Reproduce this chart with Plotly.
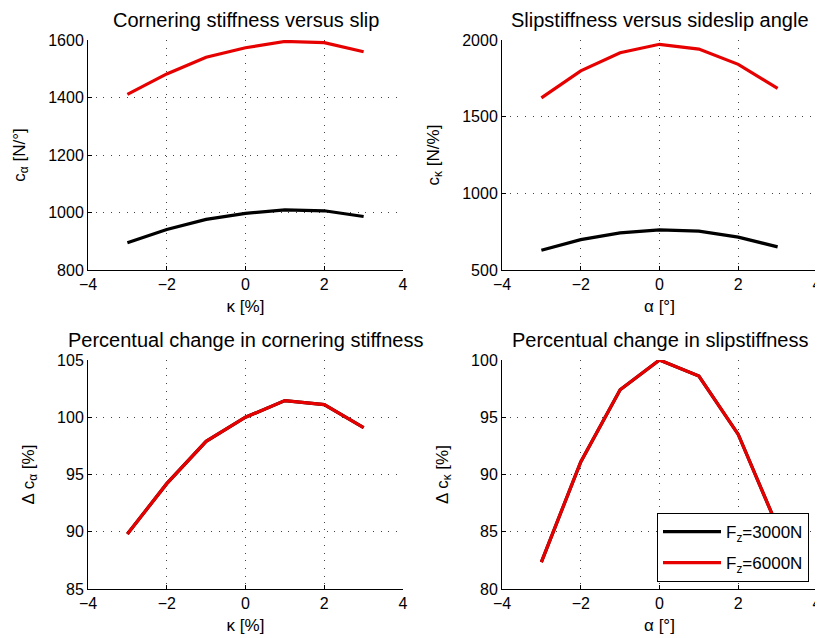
import plotly.graph_objects as go

# ---- data ----
kappa = [-3, -2, -1, 0, 1, 2, 3]
alpha = [-3, -2, -1, 0, 1, 2, 3]

c_alpha_3000 = [895, 941, 976, 997, 1009, 1006, 986]
c_alpha_6000 = [1411, 1482, 1540, 1573, 1595, 1591, 1559]

c_kappa_3000 = [629, 698, 742, 762, 753, 714, 651]
c_kappa_6000 = [1623, 1799, 1917, 1972, 1941, 1841, 1684]

dc_alpha_3000 = [89.8, 94.2, 97.9, 100.0, 101.45, 101.1, 99.1]
dc_alpha_6000 = [89.8, 94.2, 97.9, 100.0, 101.45, 101.1, 99.1]

dc_kappa_3000 = [82.35, 91.1, 97.4, 100.0, 98.6, 93.5, 85.4]
dc_kappa_6000 = [82.35, 91.1, 97.4, 100.0, 98.6, 93.5, 85.4]

series_names = ["F<sub>z</sub>=3000N", "F<sub>z</sub>=6000N"]
colors = ["#000000", "#e60000"]

# page body has an 8px margin, so the figure is shifted by 8px
OFF = 8
W, H = 823 - OFF, 638 - OFF
FONT = "Liberation Sans, Arial, Helvetica, sans-serif"

fig = go.Figure()

panels = [
    ("x", "y", kappa, c_alpha_3000, c_alpha_6000),
    ("x2", "y2", alpha, c_kappa_3000, c_kappa_6000),
    ("x3", "y3", kappa, dc_alpha_3000, dc_alpha_6000),
    ("x4", "y4", alpha, dc_kappa_3000, dc_kappa_6000),
]
for i, (xa, ya, xs, s1, s2) in enumerate(panels):
    for j, s in enumerate([s1, s2]):
        fig.add_trace(go.Scatter(
            x=xs, y=s, mode="lines", xaxis=xa, yaxis=ya,
            line=dict(color=colors[j], width=3.2),
            name=series_names[j], showlegend=(i == 3),
            legendgroup="g%d" % j,
        ))

def px_x(p):
    return (p - OFF) / W

def px_y(p):
    return 1 - (p - OFF) / H

xdom_l = [px_x(88), px_x(403)]
xdom_r = [px_x(502), px_x(817)]
ydom_t = [px_y(270), px_y(40)]
ydom_b = [px_y(589), px_y(360)]

common_ax = dict(
    showline=True, linecolor="black", linewidth=1,
    ticks="inside", ticklen=4, tickcolor="black",
    showgrid=True, gridcolor="#444444", griddash="1px,6.7px", gridwidth=1.2,
    zeroline=False, tickfont=dict(size=16, color="black", family=FONT),
    mirror=False, automargin=False,
)

def xaxis(dom, anchor, title):
    d = dict(common_ax)
    d.update(domain=dom, anchor=anchor, range=[-4, 4], tickvals=[-4, -2, 0, 2, 4],
             title=dict(text=title, font=dict(size=17, family=FONT, color="black"), standoff=7))
    return d

def yaxis(dom, anchor, rng, vals, title):
    d = dict(common_ax)
    d.update(domain=dom, anchor=anchor, range=rng, tickvals=vals,
             title=dict(text=title, font=dict(size=17, family=FONT, color="black"), standoff=18))
    return d

fig.update_layout(
    width=W, height=H,
    margin=dict(l=0, r=0, t=0, b=0),
    paper_bgcolor="white", plot_bgcolor="white",
    font=dict(family=FONT, color="black", size=16),
    xaxis=xaxis(xdom_l, "y", "κ [%]"),
    yaxis=yaxis(ydom_t, "x", [800, 1600], [800, 1000, 1200, 1400, 1600], "c<sub>α</sub> [N/°]"),
    xaxis2=xaxis(xdom_r, "y2", "α [°]"),
    yaxis2=yaxis(ydom_t, "x2", [500, 2000], [500, 1000, 1500, 2000], "c<sub>κ</sub> [N/%]"),
    xaxis3=xaxis(xdom_l, "y3", "κ [%]"),
    yaxis3=yaxis(ydom_b, "x3", [85, 105], [85, 90, 95, 100, 105], "Δ c<sub>α</sub> [%]"),
    xaxis4=xaxis(xdom_r, "y4", "α [°]"),
    yaxis4=yaxis(ydom_b, "x4", [80, 100], [80, 85, 90, 95, 100], "Δ c<sub>κ</sub> [%]"),
    showlegend=True,
    legend=dict(
        x=px_x(657), y=px_y(513), xanchor="left", yanchor="top",
        bgcolor="white", bordercolor="black", borderwidth=1,
        font=dict(size=17, family=FONT, color="black"),
        tracegroupgap=6, itemwidth=58,
    ),
)

titles = [
    ("Cornering stiffness versus slip", (88 + 403) / 2, 20),
    ("Slipstiffness versus sideslip angle", (502 + 817) / 2, 20),
    ("Percentual change in cornering stiffness", (88 + 403) / 2, 340),
    ("Percentual change in slipstiffness", (502 + 817) / 2, 340),
]
for t, cx, cy in titles:
    fig.add_annotation(
        text=t, x=px_x(cx), y=px_y(cy), xref="paper", yref="paper",
        xanchor="center", yanchor="middle", showarrow=False,
        font=dict(size=20, family=FONT, color="black"),
    )

fig.write_html("out.html")
